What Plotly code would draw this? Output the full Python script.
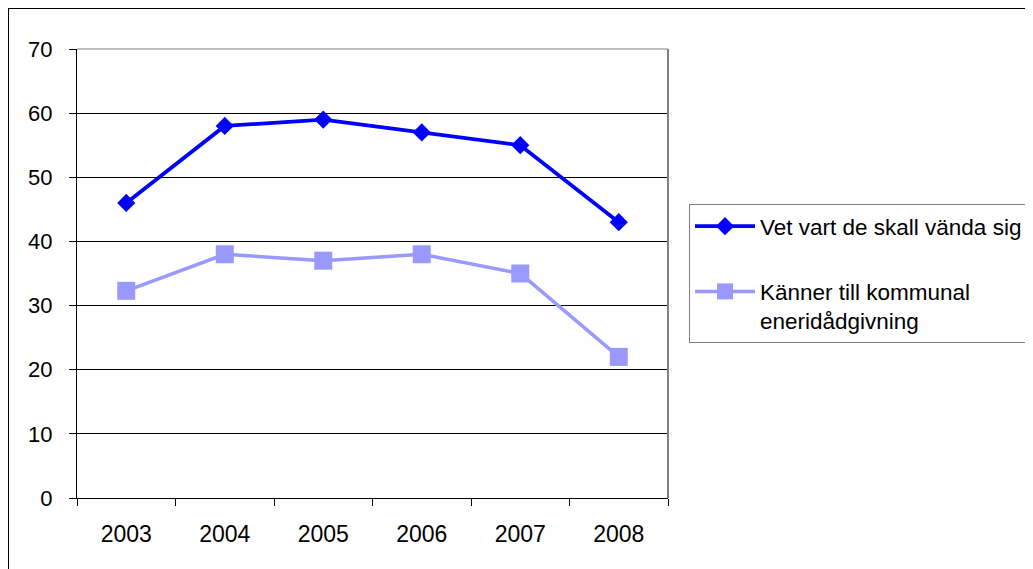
import plotly.graph_objects as go

# Figure is placed by the page with an 8px body margin
OFF = 8
W, H = 1033 - OFF, 569 - OFF

years = ["2003", "2004", "2005", "2006", "2007", "2008"]
vet_vart = [46, 58, 59, 57, 55, 43]
kanner_till = [32.3, 38, 37, 38, 35, 22]
y_ticks = [0, 10, 20, 30, 40, 50, 60, 70]

name1 = "Vet vart de skall vända sig"
name2 = "Känner till kommunal<br>eneridådgivning"

FONT = "Liberation Sans, Arial, sans-serif"

fig = go.Figure()
fig.add_trace(go.Scatter(
    x=years, y=vet_vart, name=name1, mode="lines+markers",
    line=dict(color="#0000FF", width=3.8),
    marker=dict(symbol="diamond", size=14, color="#0000FF"),
    legendgroup="a",
))
fig.add_trace(go.Scatter(
    x=years, y=kanner_till, name=name2, mode="lines+markers",
    line=dict(color="#9999FF", width=3.5),
    marker=dict(symbol="square", size=18, color="#9999FF"),
    legendgroup="b",
))

px_x = lambda p: (p - OFF) / W
px_y = lambda p: 1 - (p - OFF) / H

fig.update_layout(
    width=W, height=H,
    margin=dict(l=0, r=0, t=0, b=0, autoexpand=False),
    paper_bgcolor="white", plot_bgcolor="white",
    font=dict(family=FONT, size=23, color="black"),
    xaxis=dict(
        domain=[px_x(77), px_x(668)],
        type="category", range=[-0.5, 5.5],
        tickson="boundaries", ticks="outside", ticklen=7, tickcolor="black",
        showgrid=False, showline=True, linecolor="black", linewidth=1,
        mirror=False, tickfont=dict(size=23), fixedrange=True,
        automargin=False, ticklabelstandoff=15,
    ),
    yaxis=dict(
        domain=[px_y(498), px_y(49)],
        range=[0, 70], tickvals=y_ticks,
        ticks="outside", ticklen=7, tickcolor="black",
        showgrid=True, gridcolor="black", gridwidth=1,
        showline=True, linecolor="black", linewidth=1,
        zeroline=False, tickfont=dict(size=22), fixedrange=True,
        automargin=False, ticklabelstandoff=12,
    ),
    showlegend=True,
    legend=dict(
        x=px_x(689), y=px_y(204), xanchor="left", yanchor="top",
        bordercolor="#808080", borderwidth=1, bgcolor="white",
        font=dict(size=22.5), valign="top",
        traceorder="grouped", tracegroupgap=33,
        itemwidth=60,
    ),
    shapes=[
        dict(type="rect", xref="paper", yref="paper",
             x0=px_x(8), x1=1.05, y0=-0.05, y1=px_y(8),
             line=dict(color="black", width=2), fillcolor="rgba(0,0,0,0)", layer="below"),
        dict(type="line", xref="paper", yref="paper",
             x0=px_x(668), x1=px_x(668), y0=px_y(498), y1=px_y(49),
             line=dict(color="#808080", width=2)),
        dict(type="line", xref="paper", yref="paper",
             x0=px_x(77), x1=px_x(668), y0=px_y(49), y1=px_y(49),
             line=dict(color="#808080", width=1)),
    ],
)

fig.write_html("out.html")
